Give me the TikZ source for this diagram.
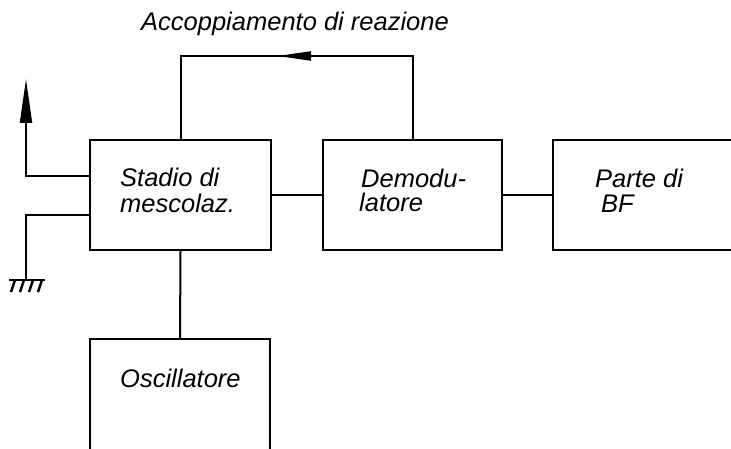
\documentclass[tikz,border=0pt]{standalone}
\usepackage{fontspec}
\setmainfont{Liberation Sans}
\usetikzlibrary{arrows.meta}
\tikzset{
  blk/.style={draw=black, line width=2pt, rectangle, inner sep=0pt},
  wire/.style={draw=black, line width=2pt},
  lbl/.style={anchor=base west, inner sep=0pt, font=\fontsize{25.5}{26}\selectfont\itshape},
  gndhatch/.style={line width=2.4pt}
}
\begin{document}
\begin{tikzpicture}[x=1pt,y=-1pt]
\useasboundingbox (0,0) rectangle (731,449);
\clip (0,0) rectangle (731,449);
% blocks
\node[blk, minimum width=181pt, minimum height=110pt] (stadio) at (180.5,195) {};
\node[blk, minimum width=179pt, minimum height=110pt] (demod) at (412.5,195) {};
\node[blk, minimum width=207pt, minimum height=110pt] (parte) at (656.5,195) {};
\node[blk, minimum width=180pt, minimum height=131pt] (osc) at (180,404.5) {};
% labels
\node[lbl] (tacc) at (141,31) {Accoppiamento di reazione};
\node[lbl] (tst1) at (120,187) {Stadio di};
\node[lbl] (tst2) at (120,213) {mescolaz.};
\node[lbl] (tde1) at (361,188) {Demodu-};
\node[lbl] (tde2) at (359,212) {latore};
\node[lbl] (tpa1) at (595,188) {Parte di};
\node[lbl] (tpa2) at (601,213) {BF};
\node[lbl] (tosc) at (120,387) {Oscillatore};
% connectors
\draw[wire] (stadio.east) -- (demod.west);
\draw[wire] (demod.east) -- (parte.west);
\draw[wire] (stadio.south) -- (osc.north);
% feedback loop
\coordinate (fbL) at (180.5,56);
\coordinate (fbR) at (412.5,56);
\coordinate (fbA) at (311,56);
\coordinate (fbT) at (277,56);
\draw[wire] (stadio.north) -- (fbL) -- (fbR) -- (demod.north);
\draw[wire, -{Triangle[length=34pt,width=9pt]}] (fbA) -- (fbT);
% antenna
\coordinate (ant) at (26,79);
\draw[wire, -{Triangle[length=44pt,width=12pt]}] ([yshift=19pt]stadio.west) -| (ant);
% ground
\coordinate (gnd) at (26,280);
\draw[wire] ([yshift=-20pt]stadio.west) -| (gnd);
\coordinate (gL) at (9,280);
\coordinate (gR) at (45,280);
\draw[wire] (gL) -- (gR);
\foreach \xx in {15,24,33,42} {
  \draw[gndhatch] (\xx,280) -- ++(-4,12);
}
\end{tikzpicture}
\end{document}
